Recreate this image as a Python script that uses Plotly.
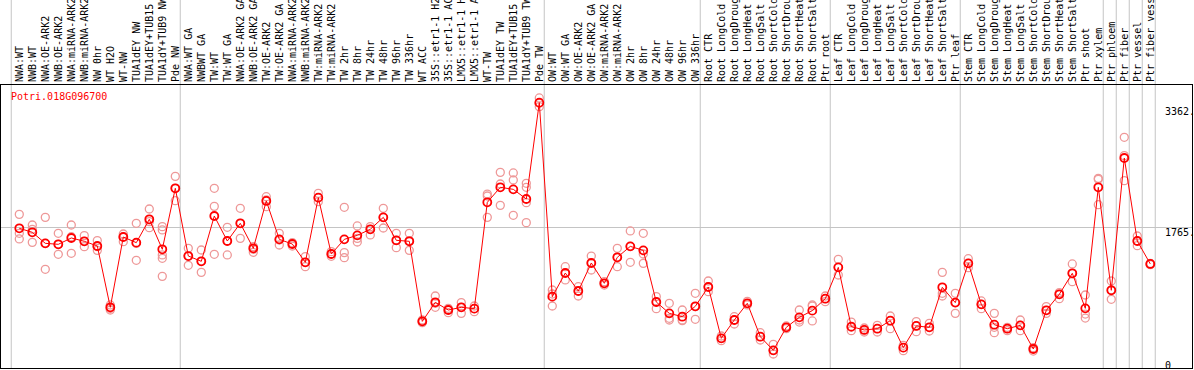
import plotly.graph_objects as go

gene_id = "Potri.018G096700"

categories = [
    "NWA:WT", "NWB:WT", "NWA:OE-ARK2", "NWB:OE-ARK2", "NWA:miRNA-ARK2", "NWB:miRNA-ARK2",
    "NW 0hr", "WT H2O", "WT-NW", "TUA1dEY NW", "TUA1dEY+TUB15 NW", "TUA1dY+TUB9 NW", "Pde NW",
    "NWA:WT GA", "NWBWT GA", "TW:WT", "TW:WT GA", "NWA:OE-ARK2 GA", "NWB:OE-ARK2 GA",
    "TW:OE-ARK2", "TW:OE-ARK2 GA", "NWA:miRNA-ARK2 GA", "NWB:miRNA-ARK2 GA", "TW:miRNA-ARK2",
    "TW:miRNA-ARK2", "TW 2hr", "TW 8hr", "TW 24hr", "TW 48hr", "TW 96hr", "TW 336hr", "WT ACC",
    "35S::etr1-1 H2O", "35S::etr1-1 ACC", "LMX5::etr1-1 H2O", "LMX5::etr1-1 ACC", "WT-TW",
    "TUA1dEY TW", "TUA1dEY+TUB15 TW", "TUA1dY+TUB9 TW", "Pde TW",
    "OW:WT", "OW:WT GA", "OW:OE-ARK2", "OW:OE-ARK2 GA", "OW:miRNA-ARK2", "OW:miRNA-ARK2",
    "OW 2hr", "OW 8hr", "OW 24hr", "OW 48hr", "OW 96hr", "OW 336hr",
    "Root CTR", "Root LongCold", "Root LongDrought", "Root LongHeat", "Root LongSalt",
    "Root ShortCold", "Root ShortDrought", "Root ShortHeat", "Root ShortSalt", "Ptr root",
    "Leaf CTR", "Leaf LongCold", "Leaf LongDrought", "Leaf LongHeat", "Leaf LongSalt",
    "Leaf ShortCold", "Leaf ShortDrought", "Leaf ShortHeat", "Leaf ShortSalt", "Ptr leaf",
    "Stem CTR", "Stem LongCold", "Stem LongDrought", "Stem LongHeat", "Stem LongSalt",
    "Stem ShortCold", "Stem ShortDrought", "Stem ShortHeat", "Stem ShortSalt", "Ptr shoot",
    "Ptr xylem", "Ptr phloem", "Ptr fiber", "Ptr vessel", "Ptr fiber vessel",
]

# number of samples in each group (vertical separators drawn between groups)
group_sizes = [13, 28, 12, 10, 10, 11, 1, 1, 1, 1]

means = [
    1757, 1704, 1558, 1545, 1629, 1585, 1523, 711, 1642, 1567,
    1876, 1479, 2287, 1390, 1320, 1920, 1589, 1823, 1492, 2119,
    1611, 1549, 1307, 2163, 1417, 1611, 1664, 1744, 1902, 1598,
    1585, 525, 777, 675, 711, 693, 2101, 2300, 2273, 2145,
    3421, 852, 1165, 927, 1298, 1029, 1373, 1518, 1465, 781,
    631, 587, 724, 980, 300, 543, 764, 322, 141, 446,
    578, 667, 825, 1240, 455, 411, 428, 534, 177, 464,
    446, 976, 773, 1293, 750, 481, 428, 472, 159, 671,
    883, 1161, 697, 2300, 936, 2688, 1589, 1285,
]

replicates = [
    [1942, 1691, 1616], [1801, 1744, 1571], [1902, 1558, 1214], [1691, 1545, 1413],
    [1801, 1646, 1426], [1660, 1585, 1514], [1594, 1514, 1465], [742, 697, 675],
    [1682, 1642, 1580], [1823, 1558, 1333], [2013, 1845, 1766], [1779, 1735, 1404, 1360, 1121],
    [2445, 2287, 2123], [1492, 1390, 1267], [1470, 1320, 1174], [2287, 2048, 1413],
    [1770, 1589, 1404], [2022, 1823, 1624], [1514, 1479, 1439], [2176, 2132, 2044],
    [1691, 1602, 1536], [1567, 1549, 1523], [1382, 1307, 1249], [2220, 2163, 2110],
    [1448, 1417, 1386], [2035, 1435, 1368], [1788, 1624, 1576], [1779, 1744, 1669],
    [2022, 1902, 1761], [1691, 1598, 1501], [1691, 1594, 1465], [543, 525, 508],
    [861, 764, 711], [697, 675, 640], [773, 711, 631], [728, 693, 653],
    [2211, 2185, 1902], [2498, 2344, 2061], [2490, 2397, 1929], [2353, 2300, 2097, 1832],
    [3483, 3412, 3368], [940, 887, 728], [1249, 1165, 1073], [984, 927, 861],
    [1390, 1298, 1205], [1051, 1029, 1006], [1492, 1373, 1249], [1722, 1518, 1307],
    [1691, 1417, 1293], [852, 781, 693], [764, 565, 543], [675, 543, 534],
    [896, 720, 552], [1059, 984, 918], [331, 300, 269], [587, 543, 490],
    [790, 764, 742], [375, 322, 278], [221, 141, 93], [464, 446, 428],
    [675, 543, 516], [742, 728, 530], [861, 825, 786], [1346, 1240, 1139],
    [516, 446, 402], [437, 411, 384], [472, 428, 384], [596, 534, 428],
    [208, 177, 137], [521, 464, 388], [499, 446, 397], [1174, 896, 861],
    [896, 773, 631], [1355, 1293, 1236], [795, 750, 693], [631, 446, 375],
    [446, 428, 402], [543, 472, 402], [177, 159, 132], [720, 671, 631],
    [905, 883, 825], [1285, 1161, 1051], [874, 622, 569], [2419, 2406, 2070],
    [1059, 940, 817], [2962, 2719, 2388], [1655, 1589, 1527], [1293, 1285, 1276],
]

y_tick_vals = [0, 1765, 3362]
y_tick_text = ["0", "1765.", "3362."]

FONT = "DejaVu Sans Mono"
RED = "#ff0000"
REP_COLOR = "#ee9898"
GRID = "#c4c4c4"

x_idx = list(range(len(categories)))
rep_x = [i for i, reps in enumerate(replicates) for _ in reps]
rep_y = [v for reps in replicates for v in reps]

fig = go.Figure()
fig.add_trace(go.Scatter(
    x=rep_x, y=rep_y, mode="markers",
    marker=dict(symbol="circle-open", size=8, color=REP_COLOR, line=dict(width=1.3, color=REP_COLOR)),
    showlegend=False, hoverinfo="skip",
))
fig.add_trace(go.Scatter(
    x=x_idx, y=means, mode="lines+markers",
    line=dict(color=RED, width=1),
    marker=dict(symbol="circle-open", size=8, color=RED, line=dict(width=1.8, color=RED)),
    showlegend=False,
))

# group separators
bounds = [-0.5]
acc = 0
for g in group_sizes:
    acc += g
    bounds.append(acc - 0.5)
for b in bounds:
    fig.add_shape(type="line", xref="x", yref="paper", x0=b - 0.12, x1=b - 0.12, y0=0, y1=1.32,
                  line=dict(color=GRID, width=1), layer="below")

# right-hand value labels
for v, t in zip(y_tick_vals, y_tick_text):
    fig.add_annotation(xref="paper", yref="y", x=0.9755, y=v, text=t, showarrow=False,
                       xanchor="left", yanchor="top", yshift=3,
                       font=dict(family=FONT, size=10, color="black"))

fig.add_annotation(xref="paper", yref="paper", x=0.0065, y=0.985, text=gene_id, showarrow=False,
                   xanchor="left", yanchor="top", font=dict(family=FONT, size=10, color=RED))

fig.update_xaxes(
    range=[-1.408, -1.408 + 1191 / 13], side="top", tickmode="array", tickvals=x_idx,
    ticktext=categories, tickangle=-90, showgrid=False, zeroline=False, automargin=False,
    showline=True, mirror=True, linecolor="black", linewidth=1, ticks="",
    tickfont=dict(family=FONT, size=10, color="black"),
)
fig.update_yaxes(
    range=[-92.7, 3654.7], tickmode="array", tickvals=[1765], showticklabels=False,
    showgrid=True, gridcolor=GRID, gridwidth=1, zeroline=False, automargin=False,
    showline=True, mirror=True, linecolor="black", linewidth=1, ticks="",
)
fig.update_layout(
    width=1194, height=370, margin=dict(l=1, r=2, t=85, b=2, autoexpand=False),
    paper_bgcolor="white", plot_bgcolor="white", font=dict(family=FONT, size=10),
    showlegend=False,
)
fig.write_html(
    "out.html",
    config={"displayModeBar": False},
    post_script="document.body.style.margin='0';document.body.style.overflow='hidden';",
)
